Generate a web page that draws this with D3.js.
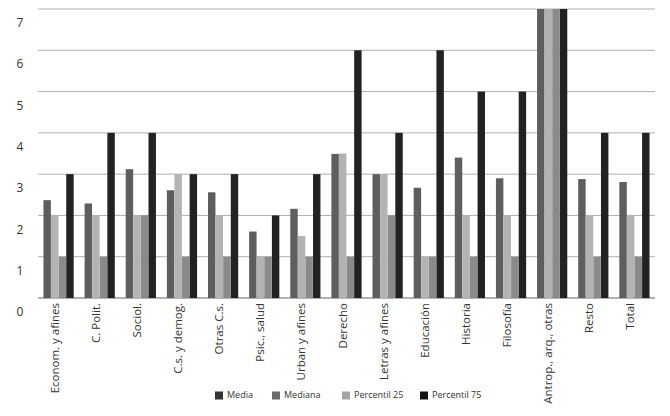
<!DOCTYPE html>
<html><head><meta charset="utf-8">
<script src="https://cdn.jsdelivr.net/npm/d3@7"></script>
<style>body{margin:0;background:#fff;}svg{display:block;font-family:"Open Sans",sans-serif;}</style>
</head><body><svg id="c" width="670" height="416"></svg>
<script>
const categories = ["Econom. y afines","C. Polit.","Sociol.","C.s. y demog.","Otras C.s.","Psic., salud","Urban y afines","Derecho","Letras y afines","Educación","Historia","Filosofía","Antrop., arq., otras","Resto","Total"];
const seriesNames = ["Media","Mediana","Percentil 25","Percentil 75"];
const media    = [2.37,2.29,3.12,2.61,2.56,1.61,2.16,3.49,3.0,2.67,3.40,2.90,7,2.88,2.81];
const mediana  = [2,2,2,3,2,1,1.5,3.5,3,1,2,2,7,2,2];
const p25      = [1,1,2,1,1,1,1,1,2,1,1,1,7,1,1];
const p75      = [3,4,4,3,3,2,3,6,4,6,5,5,7,4,4];
const yTicks = [0,1,2,3,4,5,6,7];
const barColors = ["#5e5e5e","#b3b3b3","#8a8a8a","#222222"];
const legendColors = ["#333333","#6a6a6a","#a3a3a3","#111111"];

const series = [media, mediana, p25, p75];
const svg = d3.select("#c");
const L = 38, R = 655, T = 9, B = 298;
const x = d3.scaleBand().domain(categories).range([L, R]).paddingInner(0).paddingOuter(0);
const xs = d3.scaleBand().domain(d3.range(4)).range([0, x.bandwidth()]).paddingOuter(0.72).paddingInner(0.02);
const y = d3.scaleLinear().domain([0, 7]).range([B, T]);

// gridlines
svg.append("g").selectAll("line").data(yTicks).join("line")
  .attr("x1", L).attr("x2", R)
  .attr("y1", d => y(d)).attr("y2", d => y(d))
  .attr("stroke", d => d === 0 ? "#999" : "#b0b0b0").attr("stroke-width", d => d===0?1.5:1);

// y labels
svg.append("g").selectAll("text").data(yTicks).join("text")
  .attr("x", 20).attr("y", d => y(d) + 15)
  .attr("text-anchor", "middle").attr("dominant-baseline", "middle")
  .attr("font-size", 12).attr("fill", "#333").text(d => d);

// bars
const g = svg.append("g");
categories.forEach((c, i) => {
  series.forEach((s, k) => {
    g.append("rect")
      .attr("x", x(c) + xs(k)).attr("width", xs.bandwidth())
      .attr("y", y(s[i])).attr("height", y(0) - y(s[i]))
      .attr("fill", barColors[k]);
  });
});

// category labels
svg.append("g").selectAll("text").data(categories).join("text")
  .attr("transform", d => `translate(${x(d) + x.bandwidth()/2 - 4},${B + 5}) rotate(-90)`)
  .attr("text-anchor", "end").attr("dy", "0.35em")
  .attr("font-size", 11.5).attr("fill", "#333").text(d => d);

// legend
const legX = [215, 272, 342, 420];
const lg = svg.append("g");
seriesNames.forEach((n, k) => {
  lg.append("rect").attr("x", legX[k]).attr("y", 391.5).attr("width", 8).attr("height", 8).attr("fill", legendColors[k]);
  lg.append("text").attr("x", legX[k] + 12).attr("y", 396).attr("dominant-baseline", "middle")
    .attr("font-size", 9).attr("fill", "#333").text(n);
});
</script></body></html>
